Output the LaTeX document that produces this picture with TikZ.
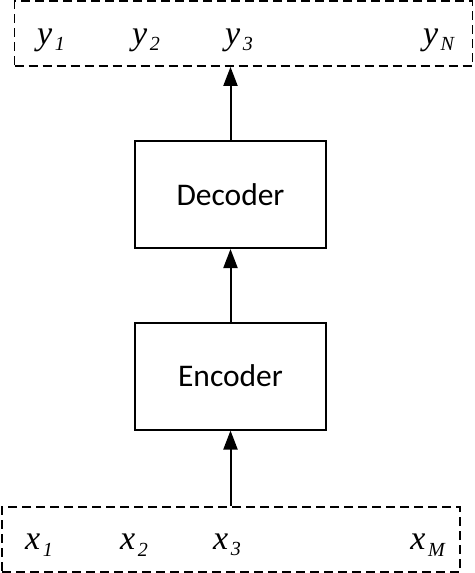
\documentclass[tikz,border=0pt]{standalone}
\usepackage{fontspec}
\setmainfont{Liberation Serif}
\newfontfamily\calib{Carlito}
\usetikzlibrary{arrows.meta}
\newcommand{\seq}[2]{\textit{#1}\kern2.5pt\raisebox{-6.5pt}{\fontsize{20}{20}\selectfont\textit{#2}}}
\begin{document}
\begin{tikzpicture}[x=1pt, y=-1pt, line width=2pt,
  block/.style={draw, minimum width=191pt, minimum height=107pt, font=\calib\fontsize{31.5}{32}\selectfont},
  frame/.style={draw, dashed, line width=1.8pt, dash pattern=on 9pt off 5pt, minimum width=458pt, minimum height=65pt},
  tok/.style={inner sep=0pt, font=\fontsize{34}{34}\selectfont},
  feed/.style={-{Triangle[length=19pt,width=14pt]}}]
\useasboundingbox (0,0) rectangle (474,573);
\node[frame] (Out) at (243.5,33.5) {};
\node[tok] (y_1) at (51,40) {\seq{y}{1}};
\node[tok] (y_2) at (146,40) {\seq{y}{2}};
\node[tok] (y_3) at (239,40) {\seq{y}{3}};
\node[tok] (y_N) at (439,40) {\seq{y}{N}};
\node[block] (Dec) at (230.5,194.5) {Decoder};
\node[block] (Enc) at (230.5,376) {Encoder};
\node[frame] (In) at (231,539.5) {};
\node[tok] (x_1) at (39,545) {\seq{x}{1}};
\node[tok] (x_2) at (134,545) {\seq{x}{2}};
\node[tok] (x_3) at (227,545) {\seq{x}{3}};
\node[tok] (x_M) at (428,545) {\seq{x}{M}};
\draw[feed] (In.north -| Enc.south) -- (Enc.south);
\draw[feed] (Enc.north) -- (Dec.south);
\draw[feed] (Dec.north) -- (Dec.north |- Out.south);
\end{tikzpicture}
\end{document}
